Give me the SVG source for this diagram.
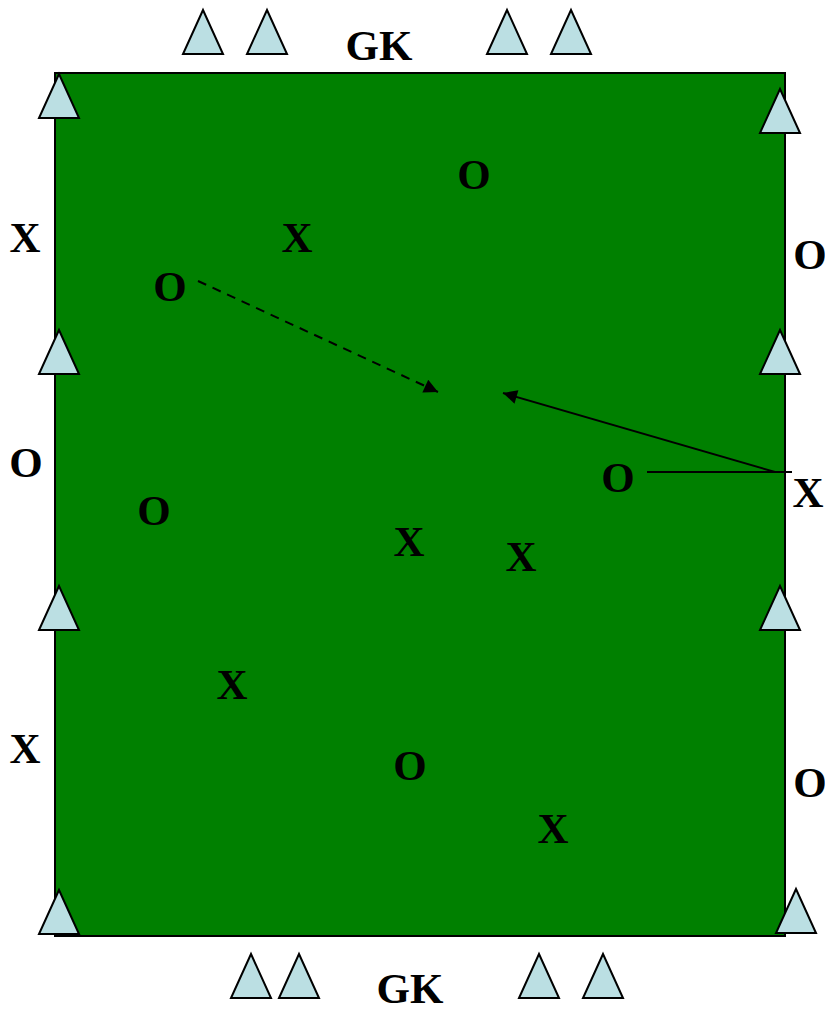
<svg xmlns="http://www.w3.org/2000/svg" width="825" height="1010" viewBox="0 0 825 1010">
<style>
.cone{fill:#bbdfe3;stroke:#000;stroke-width:2;stroke-linejoin:miter}
.lbl{font-family:"Liberation Serif","Times New Roman",serif;font-weight:bold;font-size:43px;fill:#000;text-anchor:middle}
.ln{stroke:#000;stroke-width:2;fill:none}
</style>
<defs>
<marker id="ah" viewBox="0 0 10 10" refX="10" refY="5" markerWidth="8" markerHeight="7" markerUnits="strokeWidth" orient="auto">
<path d="M0,0 L10,5 L0,10 z" fill="#000"/>
</marker>
<polygon id="tri" points="0,0 20,44 -20,44"/>
</defs>
<rect width="825" height="1010" fill="#fff"/>
<g id="field"><rect x="55" y="73" width="730" height="863" fill="#008000" stroke="#000" stroke-width="2"/></g>
<g id="cones">
<use href="#tri" class="cone" x="203" y="10"/>
<use href="#tri" class="cone" x="267" y="10"/>
<use href="#tri" class="cone" x="507" y="10"/>
<use href="#tri" class="cone" x="571" y="10"/>
<use href="#tri" class="cone" x="251" y="954"/>
<use href="#tri" class="cone" x="299" y="954"/>
<use href="#tri" class="cone" x="539" y="954"/>
<use href="#tri" class="cone" x="603" y="954"/>
<use href="#tri" class="cone" x="59" y="74"/>
<use href="#tri" class="cone" x="59" y="330"/>
<use href="#tri" class="cone" x="59" y="586"/>
<use href="#tri" class="cone" x="59" y="890"/>
<use href="#tri" class="cone" x="780" y="89"/>
<use href="#tri" class="cone" x="780" y="330"/>
<use href="#tri" class="cone" x="780" y="586"/>
<use href="#tri" class="cone" x="796" y="889"/>
</g>
<g id="connectors">
<line class="ln" x1="198" y1="281" x2="438" y2="392" stroke-dasharray="9,7" marker-end="url(#ah)"/>
<line class="ln" x1="775" y1="472" x2="503" y2="393" marker-end="url(#ah)"/>
<line class="ln" x1="647" y1="472" x2="792" y2="472"/>
</g>
<g id="labels">
<text class="lbl" x="379" y="60">GK</text>
<text class="lbl" x="410" y="1003">GK</text>
<text class="lbl" x="474" y="189">O</text>
<text class="lbl" x="297" y="252">X</text>
<text class="lbl" x="25" y="252">X</text>
<text class="lbl" x="170" y="301">O</text>
<text class="lbl" x="810" y="269">O</text>
<text class="lbl" x="26" y="477">O</text>
<text class="lbl" x="154" y="525">O</text>
<text class="lbl" x="618" y="492">O</text>
<text class="lbl" x="808" y="507">X</text>
<text class="lbl" x="409" y="556">X</text>
<text class="lbl" x="521" y="571">X</text>
<text class="lbl" x="232" y="699">X</text>
<text class="lbl" x="25" y="763">X</text>
<text class="lbl" x="410" y="780">O</text>
<text class="lbl" x="810" y="797">O</text>
<text class="lbl" x="553" y="843">X</text>
</g>
</svg>
